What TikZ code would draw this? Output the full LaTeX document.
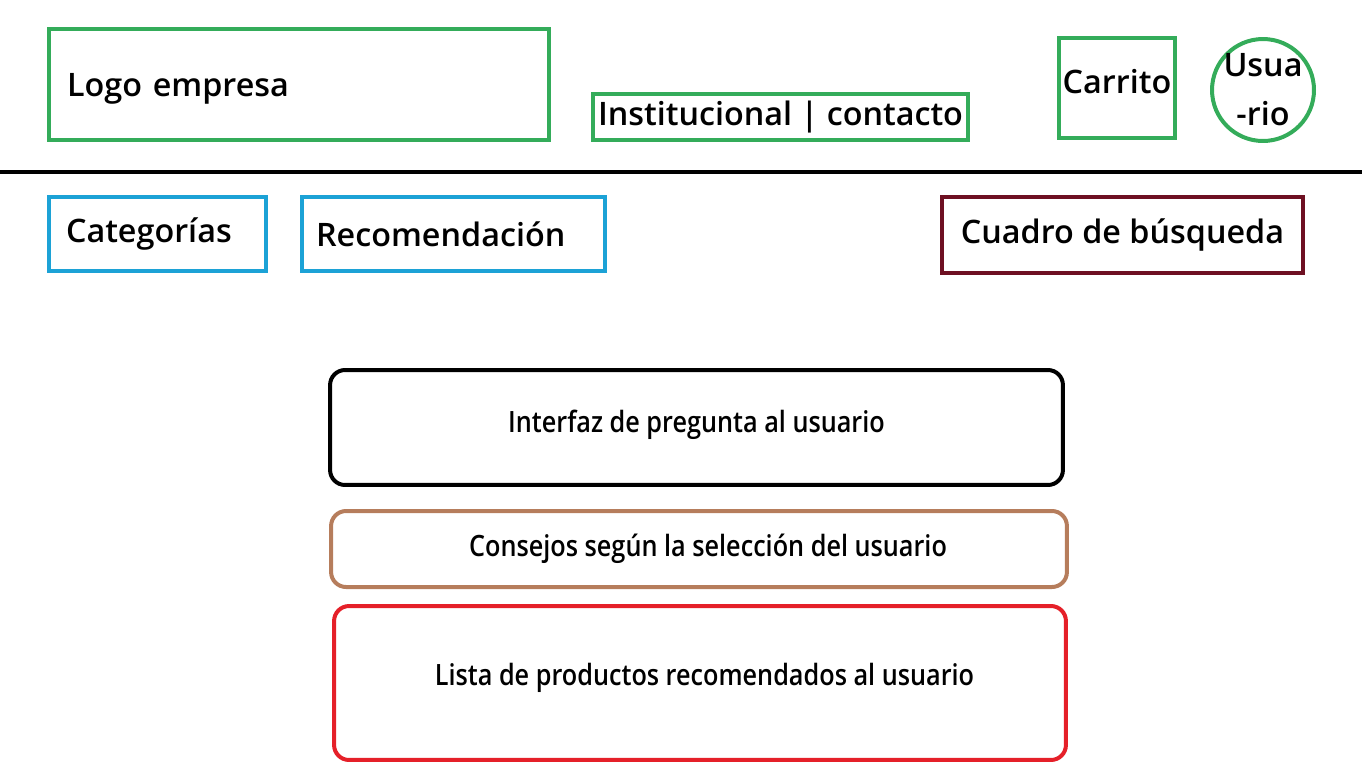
\documentclass[tikz,border=0pt]{standalone}
\usepackage{fontspec}
\setmainfont{Open Sans}
\newfontfamily\sbfont{Open Sans Semibold}
\newfontfamily\sbnarrow[FakeStretch=0.86]{Open Sans Semibold}
\usepackage{tikz}
\definecolor{pgreen}{HTML}{34AC5A}
\definecolor{pblue}{HTML}{1CA2D6}
\definecolor{pdarkred}{HTML}{6E1022}
\definecolor{pbrown}{HTML}{B67D5C}
\definecolor{pred}{HTML}{E52029}
\tikzset{
        headbox/.style={draw, line width=0.08cm, inner sep=0pt, font=\sbfont\fontsize{18.4}{22}\selectfont},
        bodybox/.style={draw, line width=0.08cm, rounded corners=0.3cm, inner sep=0pt, font=\sbnarrow\fontsize{16.7}{20}\selectfont},
}

\begin{document}
\begin{tikzpicture}[x=0.02cm, y=-0.02cm]
        \useasboundingbox (0,0) rectangle (1366,768);
        % header
        \node (logo) [headbox, pgreen, text=black, minimum width=10cm, minimum height=2.22cm, text width=9.28cm, text depth=0cm, align=left] at (299, 84.5) {Logo empresa};
        \node (inst) [headbox, pgreen, text=black, minimum width=7.5cm, minimum height=0.92cm] at (780.5, 117) {Institucional | contacto};
        \node (cart) [headbox, pgreen, text=black, minimum width=2.32cm, minimum height=2cm, text depth=0.28cm] at (1117, 88) {Carrito};
        \node (user) [headbox, circle, pgreen, text=black, minimum size=2.04cm, inner sep=-0.2cm, align=center, font=\sbfont\fontsize{18.4}{28}\selectfont] at (1263, 90) {Usua\\-rio};
        \coordinate (sepL) at (0, 172);
        \coordinate (sepR) at (1362, 172);
        \draw [line width=0.08cm] (sepL) -- (sepR);
        % menu
        \node (cat) [headbox, pblue, text=black, minimum width=4.34cm, minimum height=1.48cm, text width=3.66cm, align=left] at (157.5, 234) {Categorías};
        \node (rec) [headbox, pblue, text=black, minimum width=6.06cm, minimum height=1.48cm, text width=5.5cm, align=left] at (453.5, 234) {Recomendación};
        \node (search) [headbox, pdarkred, text=black, minimum width=7.22cm, minimum height=1.52cm] at (1122.5, 235) {Cuadro de búsqueda};
        % body
        \node (ask) [bodybox, black, minimum width=14.66cm, minimum height=2.3cm, text depth=0.26cm] at (696.5, 427.5) {Interfaz de pregunta al usuario};
        \node (tips) [bodybox, pbrown, text=black, minimum width=14.72cm, minimum height=1.52cm] at (699, 549) {\hspace*{0.36cm}Consejos según la selección del usuario};
        \node (list) [bodybox, pred, text=black, minimum width=14.64cm, minimum height=3.08cm, text depth=0.34cm] at (700, 683) {\hspace*{0.18cm}Lista de productos recomendados al usuario};
\end{tikzpicture}
\end{document}
